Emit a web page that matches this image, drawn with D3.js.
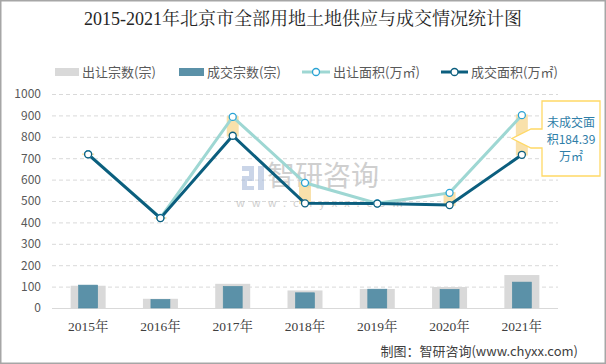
<!DOCTYPE html>
<html><head><meta charset="utf-8">
<script src="https://cdn.jsdelivr.net/npm/d3@7"></script>
<style>body{margin:0;background:#fff}svg{display:block}</style>
</head><body><svg id="c" width="606" height="364"></svg>
<script>
const years = ["2015年","2016年","2017年","2018年","2019年","2020年","2021年"];
const supplyCount = [104, 43, 113, 82, 89, 98, 154];
const dealCount = [107, 40, 101, 71, 88, 87, 121];
const supplyArea = [719, 421, 893, 585, 489, 538, 901];
const dealArea = [718, 420, 805, 489, 488, 481, 716];
const yTicks = [0,100,200,300,400,500,600,700,800,900,1000];
const note = ["未成交面","积184.39","万㎡"];

(function(){
const svg = d3.select("#c");
const pL = 52, pR = 558, pT = 94, pB = 308;
const x = d3.scaleBand().domain(years).range([pL, pR]);
const y = d3.scaleLinear().domain([0,1000]).range([pB, pT]);
const cx = d => x(d) + x.bandwidth()/2;
const sans = "'Microsoft YaHei','Noto Sans CJK SC',sans-serif";
const serif = "'Liberation Serif','Noto Serif CJK SC','Noto Sans CJK SC',serif";

svg.append("rect").attr("x",0.75).attr("y",0.75).attr("width",604.5).attr("height",362.5)
  .attr("fill","#fff").attr("stroke","#a6a6a6").attr("stroke-width",1.5);

svg.append("text").attr("x",303).attr("y",25).attr("text-anchor","middle")
  .attr("font-family",serif).attr("font-size",18).attr("fill","#262626").text("2015-2021年北京市全部用地土地供应与成交情况统计图");

const ya = d3.axisLeft(y).tickValues(yTicks).tickFormat(d3.format("d")).tickSize(-(pR-pL)).tickPadding(11);
const gy = svg.append("g").attr("transform",`translate(${pL},0)`).call(ya);
gy.select(".domain").remove();
gy.selectAll(".tick line").attr("stroke","#d9d9d9").attr("stroke-dasharray","4,3")
  .filter(d=>d===0).attr("stroke-dasharray",null);
gy.selectAll(".tick text").attr("font-family",sans).attr("font-size",12).attr("fill","#595959");

const wm = svg.append("g").attr("opacity",0.55);
[[242,166,12,5],[249,166,5,14],[242,176,12,5],[242,176,5,14],[242,186,12,4],[258,166,6,24]].forEach(r=>{
  wm.append("rect").attr("x",r[0]).attr("y",r[1]).attr("width",r[2]).attr("height",r[3]).attr("fill","#9fb4d6");
});
wm.append("text").attr("x",267).attr("y",186).attr("font-family",sans).attr("font-size",28)
  .attr("fill","#a8a8a8").text("智研咨询");
wm.append("text").attr("x",236).attr("y",207).attr("font-family",sans).attr("font-size",11)
  .attr("letter-spacing","7px").attr("fill","#a8a8a8").text("www.chyxx.com");

svg.append("g").selectAll("rect").data(years).join("rect")
  .attr("x",d=>cx(d)-17.5).attr("width",35)
  .attr("y",(d,i)=>y(supplyCount[i])).attr("height",(d,i)=>pB-y(supplyCount[i]))
  .attr("fill","#d9d9d9");
svg.append("g").selectAll("rect").data(years).join("rect")
  .attr("x",d=>cx(d)-9.5).attr("width",19)
  .attr("y",(d,i)=>y(dealCount[i])).attr("height",(d,i)=>pB-y(dealCount[i]))
  .attr("fill","#5b91a8").attr("stroke","#4f8aa2").attr("stroke-width",0.6);

svg.append("g").selectAll("rect").data(years).join("rect")
  .attr("x",d=>cx(d)-6).attr("width",12)
  .attr("y",(d,i)=>Math.min(y(supplyArea[i]),y(dealArea[i]))-0.75)
  .attr("height",(d,i)=>Math.abs(y(supplyArea[i])-y(dealArea[i]))+1.5)
  .attr("fill","#f8dc9c").attr("opacity",0.85);

const line = arr => d3.line().x((d,i)=>cx(years[i])).y(d=>y(d))(arr);
svg.append("path").attr("d",line(supplyArea)).attr("fill","none").attr("stroke","#9ed7d3").attr("stroke-width",3);
svg.append("path").attr("d",line(dealArea)).attr("fill","none").attr("stroke","#0b5e7e").attr("stroke-width",3);
svg.append("g").selectAll("circle").data(supplyArea).join("circle")
  .attr("cx",(d,i)=>cx(years[i])).attr("cy",d=>y(d)).attr("r",3.5)
  .attr("fill","#fff").attr("stroke","#2aa3d4").attr("stroke-width",1.3);
svg.append("g").selectAll("circle").data(dealArea).join("circle")
  .attr("cx",(d,i)=>cx(years[i])).attr("cy",d=>y(d)).attr("r",3.5)
  .attr("fill","#fff").attr("stroke","#0b5e7e").attr("stroke-width",1.3);

svg.append("g").selectAll("text").data(years).join("text")
  .attr("x",d=>cx(d)).attr("y",331).attr("text-anchor","middle")
  .attr("font-family",serif).attr("font-size",13.5).attr("fill","#404040").text(d=>d);

const lg = svg.append("g").attr("font-family",sans).attr("font-size",13).attr("fill","#595959");
lg.append("rect").attr("x",55).attr("y",68).attr("width",24).attr("height",8).attr("fill","#d9d9d9");
lg.append("text").attr("x",82).attr("y",77).text("出让宗数(宗)");
lg.append("rect").attr("x",179).attr("y",68).attr("width",25).attr("height",8).attr("fill","#5b91a8");
lg.append("text").attr("x",207).attr("y",77).text("成交宗数(宗)");
lg.append("line").attr("x1",302).attr("x2",330).attr("y1",72).attr("y2",72).attr("stroke","#9ed7d3").attr("stroke-width",3);
lg.append("circle").attr("cx",316).attr("cy",72).attr("r",3.5).attr("fill","#fff").attr("stroke","#2aa3d4").attr("stroke-width",1.3);
lg.append("text").attr("x",333).attr("y",77).text("出让面积(万㎡)");
lg.append("line").attr("x1",441).attr("x2",468).attr("y1",72).attr("y2",72).attr("stroke","#0b5e7e").attr("stroke-width",3);
lg.append("circle").attr("cx",454.5).attr("cy",72).attr("r",3.5).attr("fill","#fff").attr("stroke","#0b5e7e").attr("stroke-width",1.3);
lg.append("text").attr("x",471).attr("y",77).text("成交面积(万㎡)");

const bx0 = 542, bx1 = 600, by0 = 101, by1 = 176;
svg.append("path").attr("d",`M${bx0},${by0}H${bx1}V${by1}H${bx0}V148H531L512,138.5L531,129H${bx0}Z`)
  .attr("fill","#fff").attr("stroke","#ffd966").attr("stroke-width",1.3);
svg.append("g").selectAll("text").data(note).join("text")
  .attr("x",571).attr("y",(d,i)=>127+i*17).attr("text-anchor","middle")
  .attr("font-family",sans).attr("font-size",12).attr("fill","#2f7ea8").text(d=>d);

svg.append("text").attr("x",578).attr("y",356).attr("text-anchor","end")
  .attr("font-family",sans).attr("font-size",13).attr("fill","#404040").text("制图：智研咨询(www.chyxx.com)");
})();
</script></body></html>
